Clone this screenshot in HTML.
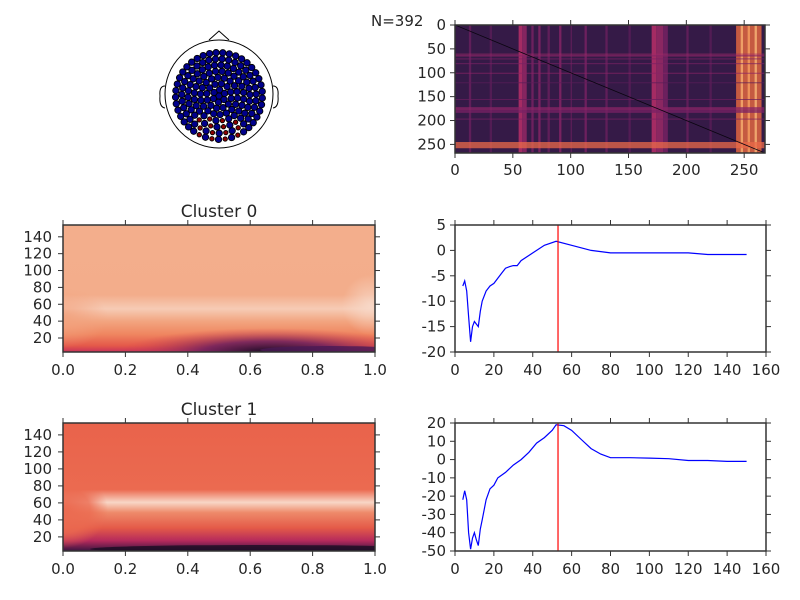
<!DOCTYPE html>
<html><head><meta charset="utf-8"><style>
body{margin:0;background:#fff}
svg{display:block;font-family:"DejaVu Sans","Liberation Sans",sans-serif}
text{fill:#262626;font-size:15px}
</style></head><body>
<svg id="fig" width="800" height="600" viewBox="0 0 800 600">
<defs>
 <clipPath id="cm"><rect x="455" y="25" width="310" height="128"/></clipPath>
 <clipPath id="h0"><rect x="63" y="225" width="312" height="127"/></clipPath>
 <clipPath id="h1"><rect x="63" y="423" width="312" height="128"/></clipPath>
 <clipPath id="l0"><rect x="455" y="225" width="311" height="127"/></clipPath>
 <clipPath id="l1"><rect x="455" y="423" width="311" height="128"/></clipPath>
 <linearGradient id="g0" x1="0" y1="0" x2="0" y2="1">
  <stop offset="0" stop-color="#f3ae8c"/><stop offset="0.55" stop-color="#f3ad8b"/>
  <stop offset="0.66" stop-color="#f6cbb5"/><stop offset="0.76" stop-color="#f2a47f"/>
  <stop offset="0.86" stop-color="#ef8660"/><stop offset="0.95" stop-color="#e4594a"/>
  <stop offset="1" stop-color="#c8315a"/>
 </linearGradient>
 <linearGradient id="g1" x1="0" y1="0" x2="0" y2="1">
  <stop offset="0" stop-color="#e9634b"/><stop offset="0.52" stop-color="#eb6a50"/>
  <stop offset="0.62" stop-color="#f8d6c6"/><stop offset="0.7" stop-color="#ee8a6a"/>
  <stop offset="0.82" stop-color="#e45a48"/><stop offset="0.92" stop-color="#b52a5c"/>
  <stop offset="1" stop-color="#3a1540"/>
 </linearGradient>
 <radialGradient id="dk" cx="0.5" cy="0.5" r="0.5">
  <stop offset="0" stop-color="#1a0c23" stop-opacity="1"/><stop offset="0.45" stop-color="#6c1f5e" stop-opacity="0.85"/><stop offset="1" stop-color="#d8404f" stop-opacity="0"/>
 </radialGradient>
 <radialGradient id="lft" cx="0.5" cy="0.5" r="0.5">
  <stop offset="0" stop-color="#eb6a50" stop-opacity="1"/><stop offset="0.6" stop-color="#eb6a50" stop-opacity="0.8"/><stop offset="1" stop-color="#eb6a50" stop-opacity="0"/>
 </radialGradient>
 <radialGradient id="lft0" cx="0.5" cy="0.5" r="0.5">
  <stop offset="0" stop-color="#f2a27e" stop-opacity="0.9"/><stop offset="1" stop-color="#f2a27e" stop-opacity="0"/>
 </radialGradient>
 <radialGradient id="wh" cx="0.5" cy="0.5" r="0.5">
  <stop offset="0" stop-color="#f8dccd" stop-opacity="0.8"/><stop offset="1" stop-color="#f8dccd" stop-opacity="0"/>
 </radialGradient>
</defs>

<g id="head">
 <path d="M209,40 L219,31 L229,40" fill="none" stroke="#000" stroke-width="1"/>
 <path d="M165,86 Q159,86 160,96 Q159,107 165,108" fill="#fff" stroke="#000"/>
 <path d="M273,86 Q279,86 278,96 Q279,107 273,108" fill="#fff" stroke="#000"/>
 <ellipse cx="219" cy="94" rx="54" ry="54" fill="#fff" stroke="#000"/>
</g>
<text x="371" y="26">N=392</text>

<g id="mat" clip-path="url(#cm)"></g>
<rect x="455" y="25" width="310" height="128" fill="none" stroke="#333" stroke-width="1.5"/>
<g id="matax"></g>

<g clip-path="url(#h0)">
 <rect x="63" y="225" width="312" height="127" fill="url(#g0)"/>
 <ellipse cx="63" cy="318" rx="45" ry="30" fill="url(#lft0)"/>
 <ellipse cx="270" cy="352" rx="150" ry="24" fill="url(#dk)"/>
 <ellipse cx="330" cy="350" rx="70" ry="4" fill="#4a1a55" opacity="0.8"/>
 <ellipse cx="370" cy="305" rx="28" ry="30" fill="url(#wh)"/>
</g>
<rect x="63" y="225" width="312" height="127" fill="none" stroke="#333" stroke-width="1.5"/>
<text x="219" y="217" text-anchor="middle" style="font-size:17px">Cluster 0</text>

<g clip-path="url(#h1)">
 <rect x="63" y="423" width="312" height="128" fill="url(#g1)"/>
 <ellipse cx="63" cy="510" rx="45" ry="38" fill="url(#lft)"/>
 <ellipse cx="260" cy="549" rx="170" ry="4" fill="#1a0c23" opacity="0.8"/>
</g>
<rect x="63" y="423" width="312" height="128" fill="none" stroke="#333" stroke-width="1.5"/>
<text x="219" y="415" text-anchor="middle" style="font-size:17px">Cluster 1</text>

<g id="hax"></g>
<g id="lines"></g>
</svg>
<script>
const lineX0 = [4,5,6,7,8,9,10,11,12,13,14,16,18,20,22,24,26,28,30,32,34,40,46,52,60,70,80,90,100,110,120,130,140,150];
const lineY0 = [-7,-6,-8,-13,-18,-15,-14,-14.5,-15,-12,-10,-8,-7,-6.5,-5.5,-4.5,-3.5,-3.2,-3,-3,-2,-0.5,1,1.8,1,0,-0.5,-0.5,-0.5,-0.5,-0.5,-0.8,-0.8,-0.8];
const lineX1 = [4,5,6,7,8,9,10,11,12,13,14,16,18,20,22,26,30,34,38,42,46,50,52,56,60,65,70,75,80,90,100,110,120,130,140,150];
const lineY1 = [-22,-17,-22,-40,-49,-43,-40,-44,-47,-38,-33,-22,-16,-14,-10,-7,-3,0,4,9,12,16,19,18.5,16,11,6,3,1,1,0.8,0.5,-0.5,-0.5,-1,-1];
const peakX = [53,53];
const lineXTicks = [0,20,40,60,80,100,120,140,160];
const lineYTicks0 = [5,0,-5,-10,-15,-20];
const lineYTicks1 = [20,10,0,-10,-20,-30,-40,-50];
const heatXTicks = [0.0,0.2,0.4,0.6,0.8,1.0];
const heatYTicks = [20,40,60,80,100,120,140];
const matTicks = [0,50,100,150,200,250];
const matColBands = [[12,14,"#6a1f5e"],[30,32,"#5a1d58"],[55,58,"#c0306a"],[58,62,"#9a2866"],[66,68,"#7a2264"],[72,74,"#8a2466"],[80,82,"#6a1f5e"],[90,92,"#8a2466"],[100,101,"#6a1f5e"],[112,114,"#7a2264"],[130,132,"#6a1f5e"],[150,152,"#5a1d58"],[170,174,"#c0306a"],[174,180,"#a02a68"],[180,184,"#7a2264"],[200,202,"#6a1f5e"],[220,222,"#5a1d58"],[243,265,"#ea6a40"],[247,249,"#f8b070"],[253,255,"#f6a060"],[259,261,"#f8b878"]];
const matRowBands = [[60,62,"#a02a68"],[63,66,"#8a2466"],[70,72,"#7a2264"],[80,82,"#7a2264"],[100,102,"#8a2466"],[120,122,"#5a1d58"],[155,157,"#6a1f5e"],[172,178,"#8a2466"],[178,184,"#7a2264"],[196,198,"#7a2264"],[245,258,"#ea6a48"]];

const NS="http://www.w3.org/2000/svg";
function mk(tag,attrs,parent){const e=document.createElementNS(NS,tag);for(const k in attrs)e.setAttribute(k,attrs[k]);parent.appendChild(e);return e;}

const head=document.getElementById('head');
for(let r=0;r<=49;r+=6.2){
  const n=r===0?1:Math.round(2*Math.PI*r/6.6);
  for(let i=0;i<n;i++){
    const a=2*Math.PI*i/n+r*0.1;
    const x=219+r*Math.cos(a), y=96+r*Math.sin(a);
    const red=(y>116 && Math.abs(x-219)<22 && y<142 && (i%2===0));
    const c=mk('circle',{cx:x.toFixed(1),cy:y.toFixed(1),r:red?2.2:3.2,fill:red?'#8b0000':'#00008b',stroke:'#000','stroke-width':0.9},head);
    
    
  }
}

const mat=document.getElementById('mat');
const mxs=v=>455+v*310/268, mys=v=>25+v*128/268;
mk('rect',{x:455,y:25,width:310,height:128,fill:'#351a47'},mat);
for(const b of matColBands){const r=mk('rect',{x:mxs(b[0]),y:25,width:mxs(b[1])-mxs(b[0]),height:128,fill:b[2],opacity:0.8},mat);
  
  }
for(const b of matRowBands){const r=mk('rect',{x:455,y:mys(b[0]),width:310,height:mys(b[1])-mys(b[0]),fill:b[2],opacity:0.75},mat);
  
  }
mk('line',{x1:mxs(0),y1:mys(0),x2:mxs(268),y2:mys(268),stroke:'#0a0510','stroke-width':0.8},mat);
const matax=document.getElementById('matax');
for(const t of matTicks){
  mk('line',{x1:mxs(t),y1:153,x2:mxs(t),y2:158,stroke:'#333'},matax);
  mk('line',{x1:mxs(t),y1:25,x2:mxs(t),y2:20,stroke:'#333'},matax);
  const tx=mk('text',{x:mxs(t),y:175,'text-anchor':'middle'},matax);tx.textContent=t;
  
  
  mk('line',{x1:450,y1:mys(t),x2:455,y2:mys(t),stroke:'#333'},matax);
  mk('line',{x1:765,y1:mys(t),x2:770,y2:mys(t),stroke:'#333'},matax);
  const ty=mk('text',{x:446,y:mys(t)+5,'text-anchor':'end'},matax);ty.textContent=t;
  
  
}

const hax=document.getElementById('hax');
[[225,352],[423,551]].forEach(([top,bot])=>{
  const xs=v=>63+v*312, ys=v=>bot-(v-3.4)*(bot-top)/150.6;
  for(const t of heatXTicks){
    mk('line',{x1:xs(t),y1:bot,x2:xs(t),y2:bot+5,stroke:'#333'},hax);
    mk('line',{x1:xs(t),y1:top,x2:xs(t),y2:top-5,stroke:'#333'},hax);
    const tx=mk('text',{x:xs(t),y:bot+23,'text-anchor':'middle'},hax);tx.textContent=t.toFixed(1);
    
    
  }
  for(const t of heatYTicks){
    mk('line',{x1:58,y1:ys(t),x2:63,y2:ys(t),stroke:'#333'},hax);
    mk('line',{x1:375,y1:ys(t),x2:380,y2:ys(t),stroke:'#333'},hax);
    const ty=mk('text',{x:52,y:ys(t)+5,'text-anchor':'end'},hax);ty.textContent=t;
    
    
  }
});

const lines=document.getElementById('lines');
function linePlot(X,Y,yt,ymin,ymax,top,bot,clip,nm){
  const xs=v=>455+v*311/160, ys=v=>bot-(v-ymin)*(bot-top)/(ymax-ymin);
  const g=mk('g',{'clip-path':`url(#${clip})`},lines);
  const p=mk('polyline',{points:X.map((x,i)=>xs(x).toFixed(1)+','+ys(Y[i]).toFixed(1)).join(' '),fill:'none',stroke:'#0000ff','stroke-width':1.2},g);
  
  
  const v=mk('line',{x1:xs(peakX[0]),y1:top,x2:xs(peakX[1]),y2:bot,stroke:'#ff0000','stroke-width':1.2},g);
  
  
  mk('rect',{x:455,y:top,width:311,height:bot-top,fill:'none',stroke:'#333','stroke-width':1.5},lines);
  for(const t of lineXTicks){
    mk('line',{x1:xs(t),y1:bot,x2:xs(t),y2:bot+5,stroke:'#333'},lines);
    mk('line',{x1:xs(t),y1:top,x2:xs(t),y2:top-5,stroke:'#333'},lines);
    const tx=mk('text',{x:xs(t),y:bot+23,'text-anchor':'middle'},lines);tx.textContent=t;
    
    
  }
  for(const t of yt){
    mk('line',{x1:450,y1:ys(t),x2:455,y2:ys(t),stroke:'#333'},lines);
    mk('line',{x1:766,y1:ys(t),x2:771,y2:ys(t),stroke:'#333'},lines);
    const ty=mk('text',{x:446,y:ys(t)+5,'text-anchor':'end'},lines);ty.textContent=t;
    
    
  }
}
linePlot(lineX0,lineY0,lineYTicks0,-20,5,225,352,'l0','cluster-0-profile');
linePlot(lineX1,lineY1,lineYTicks1,-50,20,423,551,'l1','cluster-1-profile');
</script>
</body></html>
